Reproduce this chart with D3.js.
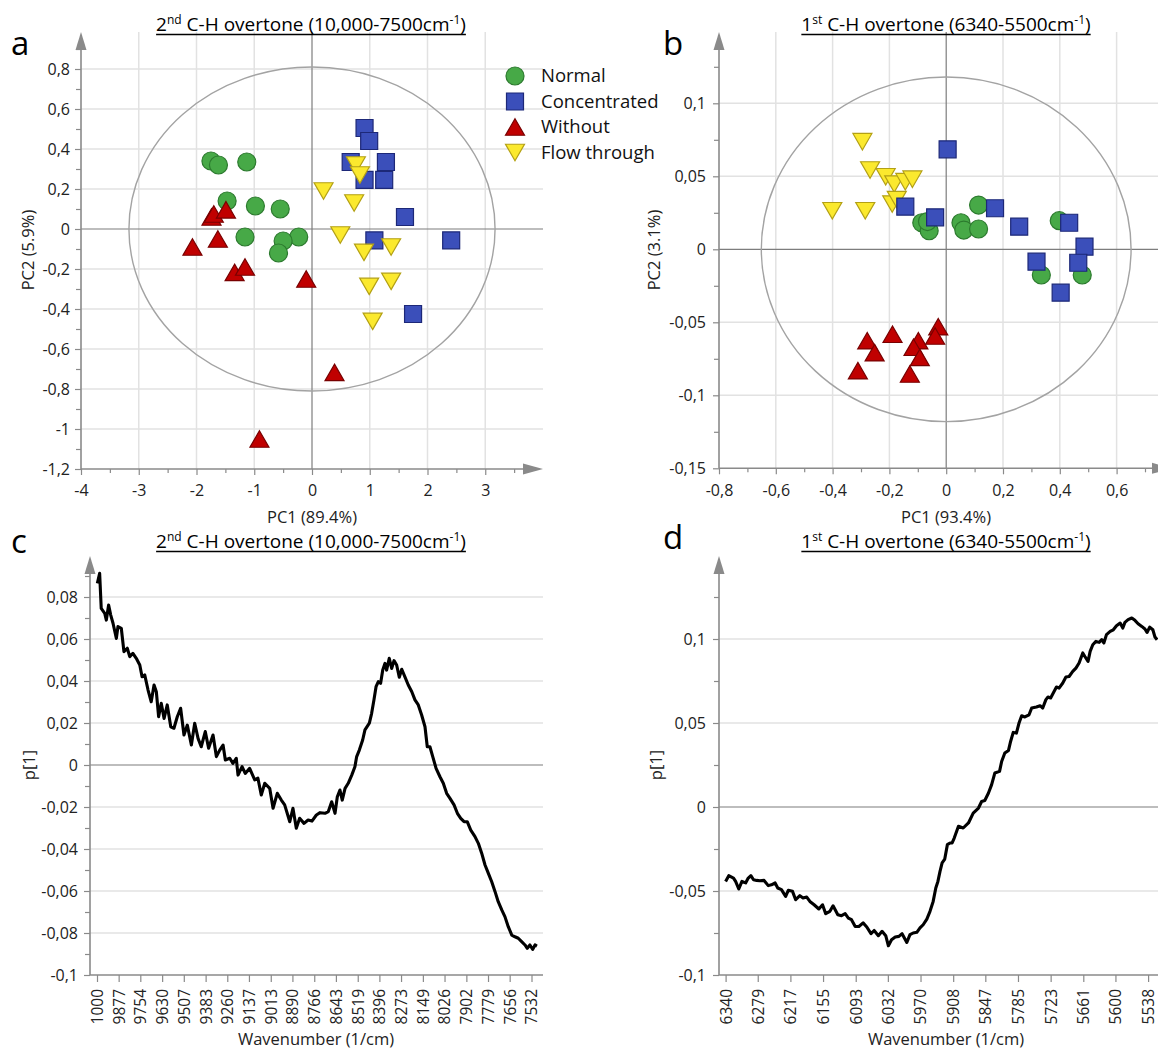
<!DOCTYPE html>
<html>
<head>
<meta charset="utf-8">
<script src="https://cdn.jsdelivr.net/npm/d3@7"></script>
<style>
  body { margin: 0; background: #fff; }
  svg { display: block; font-family: "Open Sans", "Noto Sans", sans-serif; }
</style>
</head>
<body>
<svg id="chart" width="1158" height="1050"></svg>
<script>
// ---------- score plot a: 2nd overtone PCA (PC1 vs PC2) ----------
const aNormal = [[-1.75,0.34],[-1.62,0.32],[-1.13,0.335],[-1.47,0.14],[-0.98,0.115],[-0.55,0.10],[-1.16,-0.04],[-0.23,-0.04],[-0.50,-0.06],[-0.58,-0.12]];
const aConcentrated = [[0.91,0.505],[0.99,0.44],[0.67,0.335],[1.28,0.335],[0.91,0.246],[1.25,0.246],[1.61,0.06],[1.08,-0.057],[2.41,-0.057],[1.75,-0.425]];
const aWithout = [[-1.74,0.06],[-1.70,0.075],[-1.49,0.096],[-1.63,-0.05],[-2.07,-0.09],[-1.34,-0.217],[-1.16,-0.19],[-0.10,-0.25],[0.39,-0.717],[-0.91,-1.05]];
const aFlow = [[0.76,0.32],[0.83,0.27],[0.20,0.19],[0.73,0.13],[0.49,-0.03],[1.37,-0.09],[0.90,-0.117],[1.37,-0.262],[0.99,-0.287],[1.05,-0.462]];
const aEllipse = [3.17, 0.81];          // Hotelling T2 radii (PC1, PC2)
const aXTicks = [-4,-3,-2,-1,0,1,2,3];
const aYTicks = [-1.2,-1,-0.8,-0.6,-0.4,-0.2,0,0.2,0.4,0.6,0.8];

// ---------- score plot b: 1st overtone PCA ----------
const bNormal = [[-0.086,0.0182],[-0.060,0.0127],[-0.066,0.019],[0.052,0.0182],[0.062,0.0132],[0.114,0.0303],[0.114,0.0139],[0.398,0.0196],[0.335,-0.0176],[0.479,-0.0176]];
const bConcentrated = [[0.005,0.0685],[-0.144,0.0292],[-0.039,0.0219],[0.172,0.0281],[0.257,0.0155],[0.433,0.0182],[0.487,0.0018],[0.318,-0.0085],[0.465,-0.0092],[0.403,-0.0297]];
const bWithout = [[-0.028,-0.053],[-0.039,-0.0594],[-0.189,-0.0582],[-0.278,-0.0626],[-0.252,-0.0708],[-0.098,-0.0626],[-0.115,-0.0671],[-0.093,-0.074],[-0.311,-0.0831],[-0.128,-0.0854]];
const bFlow = [[-0.295,0.0737],[-0.268,0.0543],[-0.213,0.0497],[-0.183,0.0447],[-0.144,0.0463],[-0.119,0.048],[-0.190,0.031],[-0.174,0.034],[-0.401,0.0264],[-0.285,0.0264]];
const bEllipse = [0.651, 0.118];
const bXTicks = [-0.8,-0.6,-0.4,-0.2,0,0.2,0.4,0.6];
const bYTicks = [-0.15,-0.1,-0.05,0,0.05,0.1];

// ---------- loading plot c: p[1], 10000-7500 cm-1 ----------
const cWavenumber = [9998,9985,9976,9956,9947,9934,9922,9909,9890,9881,
  9862,9847,9828,9814,9796,9777,9757,9744,9729,9710,
  9692,9676,9663,9650,9635,9619,9601,9581,9563,9544,
  9525,9506,9487,9464,9445,9426,9408,9385,9366,9341,
  9322,9303,9284,9271,9246,9228,9209,9199,9176,9158,
  9133,9104,9086,9067,9047,9019,9000,8976,8953,8934,
  8905,8887,8868,8849,8824,8801,8779,8754,8733,8705,
  8686,8667,8648,8635,8620,8607,8591,8573,8553,8535,
  8525,8510,8491,8478,8453,8440,8427,8415,8402,8389,
  8377,8364,8355,8340,8326,8313,8298,8283,8269,8251,
  8232,8212,8194,8175,8156,8137,8124,8109,8093,8074,
  8052,8033,8014,7995,7972,7953,7934,7915,7897,7877,
  7853,7834,7815,7796,7777,7758,7739,7721,7701,7683,
  7664,7644,7626,7607,7588,7569,7556,7541,7525,7512,7501];
const cLoading = [0.0865,0.0913,0.0746,0.0722,0.0690,0.0762,0.0714,0.0675,0.0603,0.0659,
  0.0651,0.0540,0.0556,0.0516,0.0532,0.0508,0.0476,0.0420,0.0429,0.0357,
  0.0301,0.0381,0.0349,0.0230,0.0294,0.0222,0.0286,0.0182,0.0175,0.0230,
  0.0270,0.0143,0.0190,0.0095,0.0199,0.0127,0.0087,0.0159,0.0080,0.0143,
  0.0040,0.0071,0.0095,0.0024,0.0032,0.0008,0.0032,-0.0048,-0.0008,-0.0040,
  -0.0016,-0.0071,-0.0063,-0.0143,-0.0087,-0.0111,-0.0206,-0.0135,-0.0167,-0.0190,
  -0.0270,-0.0206,-0.0301,-0.0254,-0.0278,-0.0262,-0.0267,-0.0238,-0.0227,-0.0230,
  -0.0222,-0.0175,-0.0230,-0.0151,-0.0119,-0.0167,-0.0111,-0.0087,-0.0048,-0.0008,
  0.0040,0.0071,0.0119,0.0167,0.0199,0.0246,0.0310,0.0373,0.0397,0.0389,
  0.0452,0.0484,0.0452,0.0508,0.0460,0.0497,0.0476,0.0418,0.0456,0.0420,
  0.0381,0.0349,0.0310,0.0286,0.0238,0.0182,0.0087,0.0087,0.0040,-0.0016,
  -0.0056,-0.0087,-0.0135,-0.0159,-0.0190,-0.0230,-0.0254,-0.0270,-0.0270,-0.0310,
  -0.0341,-0.0373,-0.0420,-0.0476,-0.0516,-0.0556,-0.0603,-0.0651,-0.0690,-0.0722,
  -0.0770,-0.0810,-0.0818,-0.0825,-0.0841,-0.0857,-0.0873,-0.0857,-0.0878,-0.0857,-0.0862];
const cTickValues = [10000,9877,9754,9630,9507,9383,9260,9137,9013,8890,8766,8643,8519,8396,8273,8149,8026,7902,7779,7656,7532];
const cTickLabels = ["1000","9877","9754","9630","9507","9383","9260","9137","9013","8890","8766","8643","8519","8396","8273","8149","8026","7902","7779","7656","7532"];
const cYTicks = [-0.1,-0.08,-0.06,-0.04,-0.02,0,0.02,0.04,0.06,0.08];

// ---------- loading plot d: p[1], 6340-5500 cm-1 ----------
const dWavenumber = [6340,6334,6325,6321,6315,6309,6302,6297,6292,6287,
  6281,6275,6267,6259,6253,6246,6241,6234,6226,6221,
  6213,6207,6199,6193,6186,6180,6172,6163,6156,6150,
  6142,6136,6127,6120,6113,6107,6101,6094,6087,6079,
  6072,6064,6058,6050,6043,6036,6031,6025,6018,6011,
  6005,5996,5990,5984,5977,5971,5965,5958,5952,5946,
  5941,5937,5933,5929,5924,5919,5914,5910,5906,5898,
  5889,5879,5870,5860,5854,5848,5841,5835,5829,5820,
  5816,5810,5803,5799,5794,5788,5783,5778,5772,5764,
  5759,5750,5743,5738,5732,5728,5723,5718,5712,5707,
  5700,5694,5688,5681,5675,5669,5662,5658,5652,5648,
  5643,5637,5631,5626,5622,5617,5610,5604,5598,5591,
  5586,5582,5576,5569,5563,5557,5550,5544,5540,5535,
  5529,5525,5521];
const dLoading = [-0.0443,-0.0409,-0.0423,-0.0443,-0.0488,-0.0443,-0.0452,-0.0423,-0.0409,-0.0433,
  -0.0437,-0.0439,-0.0437,-0.0468,-0.0463,-0.0452,-0.0482,-0.0492,-0.0532,-0.0496,
  -0.0502,-0.0552,-0.0528,-0.0542,-0.0536,-0.0562,-0.0582,-0.0607,-0.0582,-0.0635,
  -0.0621,-0.0588,-0.0641,-0.0647,-0.0635,-0.0661,-0.0671,-0.0711,-0.0711,-0.0690,
  -0.0714,-0.0754,-0.0735,-0.0766,-0.0740,-0.0766,-0.0826,-0.0790,-0.0774,-0.0770,
  -0.0754,-0.0806,-0.0760,-0.0750,-0.0746,-0.0720,-0.0701,-0.0667,-0.0621,-0.0562,
  -0.0482,-0.0443,-0.0383,-0.0333,-0.0310,-0.0224,-0.0214,-0.0214,-0.0185,-0.0115,
  -0.0125,-0.0095,-0.0036,-0.0006,0.0033,0.0039,0.0083,0.0133,0.0202,0.0212,
  0.0271,0.0321,0.0337,0.0390,0.0444,0.0440,0.0500,0.0543,0.0536,0.0549,
  0.0589,0.0595,0.0603,0.0589,0.0639,0.0655,0.0649,0.0679,0.0714,0.0708,
  0.0738,0.0774,0.0777,0.0807,0.0827,0.0857,0.0917,0.0896,0.0867,0.0926,
  0.0966,0.0986,0.0980,0.0996,0.0976,0.1026,0.1045,0.1055,0.1079,0.1095,
  0.1065,0.1099,0.1115,0.1125,0.1111,0.1091,0.1075,0.1060,0.1039,0.1071,
  0.1055,0.1012,0.0996];
const dTickValues = [6340,6279,6217,6155,6093,6032,5970,5908,5847,5785,5723,5661,5600,5538];
const dTickLabels = dTickValues.map(String);
const dYTicks = [-0.1,-0.05,0,0.05,0.1];

const groupNames = ["Normal", "Concentrated", "Without", "Flow through"];

// ---------- styling ----------
const GRID = "#e2e2e2", AXIS = "#8a8a8a", ZERO = "#7d7d7d", ELLIPSE = "#a3a3a3";
const TICK_FONT = "16px", LABEL_FONT = "16.5px";
const STYLE = {
  "Normal":       { shape: "circle", fill: "#47a947", stroke: "#2c7a2e" },
  "Concentrated": { shape: "square", fill: "#3b4fba", stroke: "#1d2878" },
  "Without":      { shape: "up",     fill: "#c00000", stroke: "#780000" },
  "Flow through": { shape: "down",   fill: "#fbe92e", stroke: "#b3a015" }
};
const TRI_W = 19, TRI_H = 16.5;
const shapePath = {
  circle: d3.symbol(d3.symbolCircle, Math.PI * 9 * 9)(),
  square: d3.symbol(d3.symbolSquare, 17 * 17)(),
  up:   `M0,${-TRI_H/2}L${TRI_W/2},${TRI_H/2}L${-TRI_W/2},${TRI_H/2}Z`,
  down: `M0,${TRI_H/2}L${TRI_W/2},${-TRI_H/2}L${-TRI_W/2},${-TRI_H/2}Z`
};

const commaNum = v => String(Math.round(v * 1000) / 1000).replace(".", ",");
const range = (a, b, s) => d3.range(Math.round((b - a) / s) + 1).map(i => +(a + i * s).toFixed(4));

const svg = d3.select("#chart");
svg.append("rect").attr("width", 1158).attr("height", 1050).attr("fill", "#fff");

function hLine(g, x1, x2, y, color, w) {
  g.append("line").attr("x1", x1).attr("x2", x2).attr("y1", y).attr("y2", y)
    .attr("stroke", color).attr("stroke-width", w);
}
function vLine(g, x, y1, y2, color, w) {
  g.append("line").attr("x1", x).attr("x2", x).attr("y1", y1).attr("y2", y2)
    .attr("stroke", color).attr("stroke-width", w);
}
function arrowUp(g, x, yTip) {
  g.append("path").attr("d", `M${x},${yTip}L${x - 5.5},${yTip + 18}L${x + 5.5},${yTip + 18}Z`).attr("fill", AXIS);
}
function arrowRight(g, xTip, y) {
  g.append("path").attr("d", `M${xTip},${y}L${xTip - 20},${y - 5.5}L${xTip - 20},${y + 5.5}Z`).attr("fill", AXIS);
}
function styleAxis(ax) {
  ax.select(".domain").remove();
  ax.selectAll(".tick line").attr("stroke", AXIS).attr("stroke-width", 1.2);
  ax.selectAll(".tick text").attr("fill", "#222").style("font-size", TICK_FONT)
    .style("font-family", '"Open Sans", sans-serif');
}
function yAxisWithMinor(g, y, x0, major, minor, pad) {
  styleAxis(g.append("g").attr("transform", `translate(${x0},0)`)
    .call(d3.axisLeft(y).tickValues(minor).tickSize(5).tickFormat("")));
  styleAxis(g.append("g").attr("transform", `translate(${x0},0)`)
    .call(d3.axisLeft(y).tickValues(major).tickSize(6).tickPadding(pad).tickFormat(commaNum)));
}

// Underlined title; superscript parts are raised and the following run is lowered back.
function title(g, cx, baseline, parts) {
  const t = g.append("text").attr("x", cx).attr("y", baseline).attr("text-anchor", "middle")
    .style("font-size", "19px").attr("fill", "#000");
  let raised = false;
  parts.forEach(p => {
    if (p.sup) {
      t.append("tspan").attr("dy", -7).style("font-size", "12px").text(p.sup);
      raised = true;
    } else {
      t.append("tspan").attr("dy", raised ? 7 : 0).text(p.text);
      raised = false;
    }
  });
  const bb = t.node().getBBox();
  hLine(g, bb.x, bb.x + bb.width, baseline + 3.5, "#000", 1.4);
}
function panelLetter(g, x, y, s) {
  g.append("text").attr("x", x).attr("y", y).style("font-size", "33px").attr("fill", "#000").text(s);
}
function axisTitleX(g, cx, y, s) {
  g.append("text").attr("x", cx).attr("y", y).attr("text-anchor", "middle")
    .style("font-size", LABEL_FONT).attr("fill", "#222").text(s);
}
function axisTitleY(g, x, cy, s) {
  g.append("text").attr("transform", `translate(${x},${cy}) rotate(-90)`).attr("text-anchor", "middle")
    .style("font-size", LABEL_FONT).attr("fill", "#222").text(s);
}

// ---------- scatter (score) panel ----------
function scorePanel(cfg) {
  const g = svg.append("g");
  const { x, y, xTicks, xMinor, yTicks, yMinor, yTop, xRight, ellipse, series } = cfg;
  const x0 = x.range()[0], yBottom = y.range()[0];
  // grid
  xTicks.filter(v => v !== 0 && x(v) > x0 + 1).forEach(v => vLine(g, x(v), yTop, yBottom, GRID, 1.5));
  yTicks.filter(v => v !== 0 && y(v) < yBottom - 1).forEach(v => hLine(g, x0, xRight, y(v), GRID, 1.5));
  // zero lines
  vLine(g, x(0), yTop, yBottom, ZERO, 1.2);
  hLine(g, x0, xRight, y(0), ZERO, 1.2);
  // confidence ellipse
  g.append("ellipse").attr("cx", x(0)).attr("cy", y(0))
    .attr("rx", x(ellipse[0]) - x(0)).attr("ry", y(0) - y(ellipse[1]))
    .attr("fill", "none").attr("stroke", ELLIPSE).attr("stroke-width", 1.4);
  // axes
  vLine(g, x0, yTop + 10, yBottom, AXIS, 1.6);
  hLine(g, x0, xRight - 10, yBottom, AXIS, 1.6);
  arrowUp(g, x0, yTop);
  arrowRight(g, xRight, yBottom);
  yAxisWithMinor(g, y, x0, yTicks, yMinor, cfg.yPad);
  const bx = g.append("g").attr("transform", `translate(0,${yBottom})`);
  styleAxis(bx.append("g").call(d3.axisBottom(x).tickValues(xMinor).tickSize(4).tickFormat("")));
  styleAxis(bx.append("g").call(d3.axisBottom(x).tickValues(xTicks).tickSize(6).tickPadding(10).tickFormat(commaNum)));
  // points
  series.forEach(([name, pts]) => {
    const st = STYLE[name];
    g.append("g").selectAll("path").data(pts).join("path")
      .attr("d", shapePath[st.shape])
      .attr("transform", d => `translate(${x(d[0])},${y(d[1])})`)
      .attr("fill", st.fill).attr("stroke", st.stroke).attr("stroke-width", 1.2);
  });
  return g;
}

// ---------- line (loading) panel ----------
function loadingPanel(cfg) {
  const g = svg.append("g");
  const { x, y, yTicks, yMinor, yTop, xLeft, xRight, wn, p, tickValues, tickLabels } = cfg;
  const yBottom = y.range()[0];
  yTicks.filter(v => v !== 0 && y(v) < yBottom - 1).forEach(v => hLine(g, xLeft, xRight, y(v), GRID, 1.5));
  hLine(g, xLeft, xRight, y(0), ZERO, 1.2);
  vLine(g, xLeft, yTop + 10, yBottom, AXIS, 1.6);
  hLine(g, xLeft, xRight, yBottom, AXIS, 1.6);
  arrowUp(g, xLeft, yTop);
  yAxisWithMinor(g, y, xLeft, yTicks, yMinor, cfg.yPad);
  const bx = g.append("g").attr("transform", `translate(0,${yBottom})`)
    .call(d3.axisBottom(x).tickValues(tickValues).tickSize(7)
      .tickFormat((d, i) => tickLabels[i]));
  styleAxis(bx);
  bx.selectAll(".tick text").style("font-size", "15.5px").attr("text-anchor", "end").attr("dy", "0.35em")
    .attr("y", 0).attr("transform", "translate(0,14) rotate(-90)");
  const line = d3.line().x(d => x(d[0])).y(d => y(d[1]));
  g.append("path").datum(d3.zip(wn, p)).attr("d", line)
    .attr("fill", "none").attr("stroke", "#000").attr("stroke-width", 3.1)
    .attr("stroke-linejoin", "round");
  return g;
}

// ===== a =====
const xa = d3.scaleLinear().domain([-4, 4]).range([81, 543]);
const ya = d3.scaleLinear().domain([-1.2, 0.8]).range([469, 69]);
scorePanel({
  x: xa, y: ya, xTicks: aXTicks, xMinor: range(-3.5, 3.5, 1), yTicks: aYTicks, yMinor: range(-1.1, 0.9, 0.2),
  yTop: 32, xRight: 543, ellipse: aEllipse, yPad: 5,
  series: [["Normal", aNormal], ["Concentrated", aConcentrated], ["Without", aWithout], ["Flow through", aFlow]]
});
// legend
const legend = svg.append("g");
groupNames.forEach((name, i) => {
  const st = STYLE[name];
  const yy = 76 + i * 25.5;
  legend.append("path").attr("d", shapePath[st.shape]).attr("transform", `translate(515,${yy})`)
    .attr("fill", st.fill).attr("stroke", st.stroke).attr("stroke-width", 1.2);
  legend.append("text").attr("x", 541).attr("y", yy).attr("dy", "0.35em")
    .style("font-size", "18.5px").attr("fill", "#111").text(name);
});
title(svg, 311, 31, [{text: "2"}, {sup: "nd"}, {text: " C-H overtone (10,000-7500cm"}, {sup: "-1"}, {text: ")"}]);
panelLetter(svg, 11, 55, "a");
axisTitleX(svg, 312, 523, "PC1 (89.4%)");
axisTitleY(svg, 34, 250, "PC2 (5.9%)");

// ===== b =====
const xb = d3.scaleLinear().domain([-0.8, 0.8]).range([719, 1173.4]);
const yb = d3.scaleLinear().domain([-0.15, 0.1]).range([468.3, 103.3]);
scorePanel({
  x: xb, y: yb, xTicks: bXTicks, xMinor: range(-0.7, 0.7, 0.2), yTicks: bYTicks, yMinor: range(-0.125, 0.125, 0.05),
  yTop: 32, xRight: 1172, ellipse: bEllipse, yPad: 7,
  series: [["Flow through", bFlow], ["Normal", bNormal], ["Concentrated", bConcentrated], ["Without", bWithout]]
});
title(svg, 946, 31, [{text: "1"}, {sup: "st"}, {text: " C-H overtone (6340-5500cm"}, {sup: "-1"}, {text: ")"}]);
panelLetter(svg, 663, 55, "b");
axisTitleX(svg, 946, 523, "PC1 (93.4%)");
axisTitleY(svg, 660, 250, "PC2 (3.1%)");

// ===== c =====
const xc = d3.scaleLinear().domain([10000, 7532]).range([97, 531.5]);
const yc = d3.scaleLinear().domain([-0.1, 0.08]).range([975, 597]);
loadingPanel({
  x: xc, y: yc, yTicks: cYTicks, yMinor: range(-0.09, 0.09, 0.02), yTop: 556, xLeft: 90, xRight: 543,
  wn: cWavenumber, p: cLoading, tickValues: cTickValues, tickLabels: cTickLabels, yPad: 6
});
title(svg, 311, 548, [{text: "2"}, {sup: "nd"}, {text: " C-H overtone (10,000-7500cm"}, {sup: "-1"}, {text: ")"}]);
panelLetter(svg, 11, 553, "c");
axisTitleX(svg, 316, 1045, "Wavenumber (1/cm)");
axisTitleY(svg, 35, 765, "p[1]");

// ===== d =====
const xd = d3.scaleLinear().domain([6340, 5538]).range([725.6, 1148.1]);
const yd = d3.scaleLinear().domain([-0.1, 0.1]).range([975, 639]);
loadingPanel({
  x: xd, y: yd, yTicks: dYTicks, yMinor: range(-0.075, 0.125, 0.05), yTop: 556, xLeft: 719, xRight: 1160,
  wn: dWavenumber, p: dLoading, tickValues: dTickValues, tickLabels: dTickLabels, yPad: 7
});
title(svg, 946, 548, [{text: "1"}, {sup: "st"}, {text: " C-H overtone (6340-5500cm"}, {sup: "-1"}, {text: ")"}]);
panelLetter(svg, 663, 549, "d");
axisTitleX(svg, 946, 1045, "Wavenumber (1/cm)");
axisTitleY(svg, 662, 765, "p[1]");
</script>
</body>
</html>
